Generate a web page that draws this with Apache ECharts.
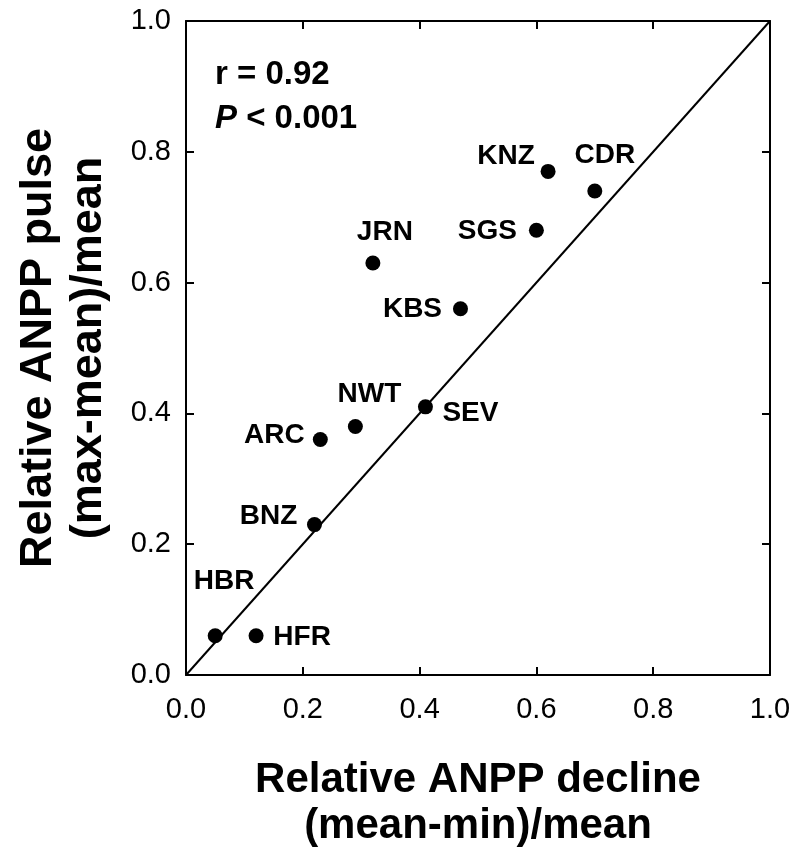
<!DOCTYPE html>
<html>
<head>
<meta charset="utf-8">
<script src="https://cdn.jsdelivr.net/npm/echarts@6/dist/echarts.min.js"></script>
<style>
html,body{margin:0;padding:0;background:#fff;}
#chart{width:806px;height:858px;}
</style>
</head>
<body>
<div id="chart"></div>
<script>
// ---- data ----
const sites   = ['HBR','HFR','BNZ','ARC','NWT','SEV','JRN','KBS','SGS','KNZ','CDR'];
const decline = [0.05, 0.12, 0.22, 0.23, 0.29, 0.41, 0.32, 0.47, 0.60, 0.62, 0.70];
const pulse   = [0.06, 0.06, 0.23, 0.36, 0.38, 0.41, 0.63, 0.56, 0.68, 0.77, 0.74];
const identityLine = [[0, 0], [1, 1]];
const statsText = ['r = 0.92', 'P < 0.001'];
const xTitle = ['Relative ANPP decline', '(mean-min)/mean'];
const yTitle = ['Relative ANPP pulse', '(max-mean)/mean'];

// ---- styling (label placement) ----
const labelOffsets = {
  HBR: [9, -54], HFR: [46, 2], BNZ: [-46, -8], ARC: [-46, -4], NWT: [14, -32],
  SEV: [45, 6], JRN: [12, -31], KBS: [-48, 1], SGS: [-49, 1], KNZ: [-42, -15], CDR: [10, -36]
};

const FONT = '"Liberation Sans", Arial, Helvetica, sans-serif';
const chart = echarts.init(document.getElementById('chart'), null, {renderer: 'canvas'});

const points = sites.map((s, i) => ({
  name: s,
  value: [decline[i], pulse[i]],
  label: {
    show: true, formatter: s, position: 'inside', offset: labelOffsets[s],
    color: '#000', opacity: 1, fontFamily: FONT, fontWeight: 'bold', fontSize: 28
  }
}));

const axisCommon = {
  type: 'value', min: 0, max: 1, interval: 0.2,
  axisLine: {show: true, onZero: false, lineStyle: {color: '#000', width: 2}},
  axisTick: {show: true, inside: true, length: 8, lineStyle: {color: '#000', width: 2}},
  splitLine: {show: false}
};

const option = {
  backgroundColor: '#fff',
  animation: false,
  grid: {left: 186, top: 21, width: 584, height: 654},
  xAxis: [
    Object.assign({}, axisCommon, {
      position: 'bottom',
      axisLabel: {margin: 20, color: '#000', fontFamily: FONT, fontSize: 29,
        formatter: v => v.toFixed(1)},
      name: xTitle.join('\n'), nameLocation: 'middle', nameGap: 82,
      nameTextStyle: {color: '#000', fontFamily: FONT, fontWeight: 'bold', fontSize: 42,
        lineHeight: 46, verticalAlign: 'top'}
    }),
    Object.assign({}, axisCommon, {position: 'top', axisLabel: {show: false}})
  ],
  yAxis: [
    Object.assign({}, axisCommon, {
      position: 'left',
      axisLabel: {margin: 15, color: '#000', fontFamily: FONT, fontSize: 29,
        formatter: v => v.toFixed(1)},
      name: yTitle.join('\n'), nameLocation: 'middle', nameGap: 72, nameRotate: 90,
      nameTextStyle: {color: '#000', fontFamily: FONT, fontWeight: 'bold', fontSize: 45,
        lineHeight: 50, verticalAlign: 'bottom'}
    }),
    Object.assign({}, axisCommon, {position: 'right', axisLabel: {show: false}})
  ],
  graphic: [
    {type: 'text', left: 215, top: 58, style: {
      text: statsText[0], fill: '#000', font: 'bold 33px ' + FONT}},
    {type: 'text', left: 215, top: 102, style: {
      text: '{i|P} < 0.001', fill: '#000', font: 'bold 33px ' + FONT,
      rich: {i: {fontStyle: 'italic', fontWeight: 'bold', fontSize: 33, fontFamily: FONT}}}}
  ],
  series: [
    {
      type: 'line', xAxisIndex: 0, yAxisIndex: 0, data: identityLine,
      symbol: 'none', lineStyle: {color: '#000', width: 2}, silent: true, z: 1
    },
    {
      type: 'scatter', xAxisIndex: 0, yAxisIndex: 0, data: points,
      symbol: 'circle', symbolSize: 15, itemStyle: {color: '#000', opacity: 1}, z: 3
    }
  ]
};
chart.setOption(option);
</script>
</body>
</html>
